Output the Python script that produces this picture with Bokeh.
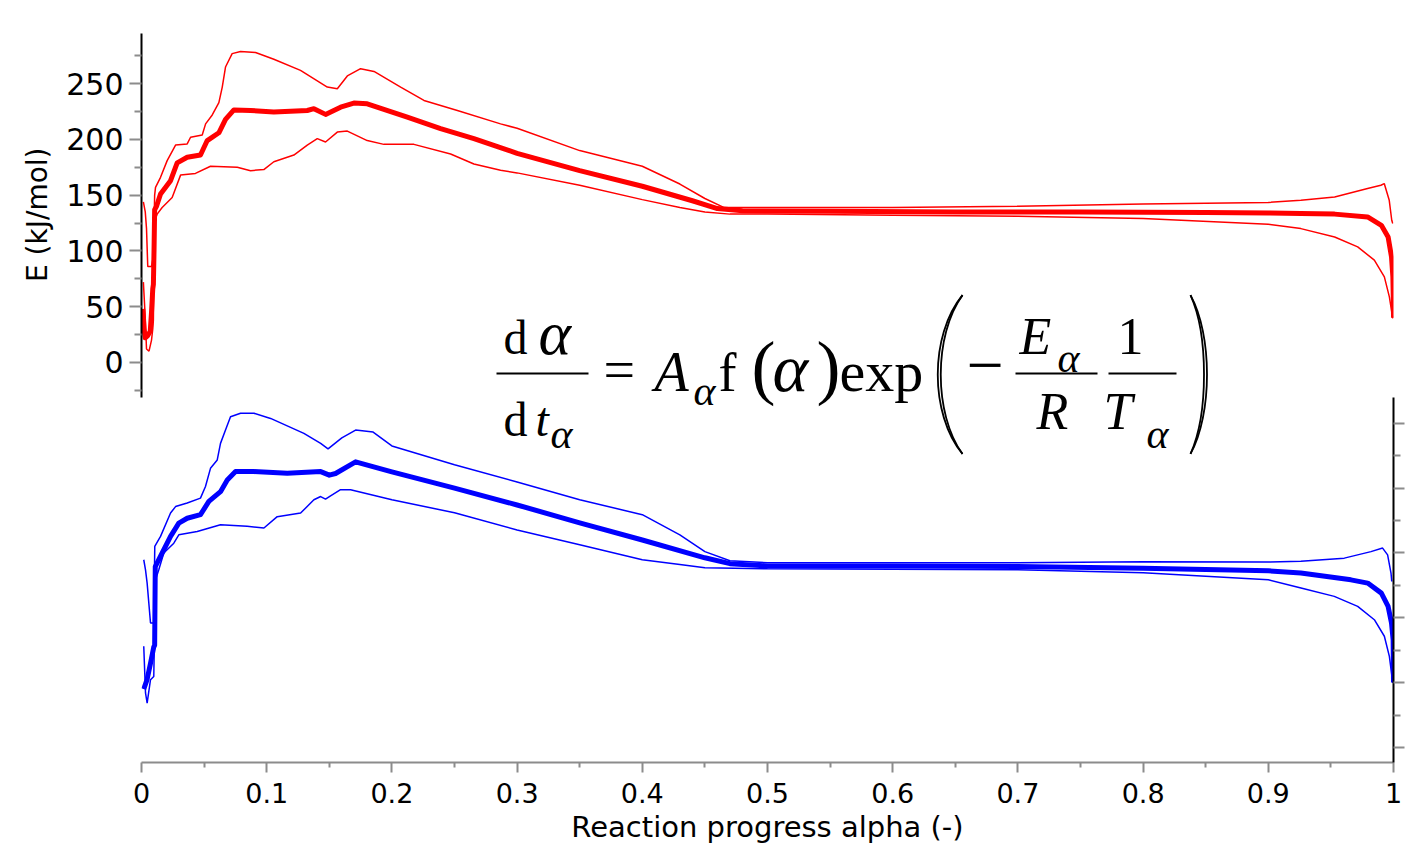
from bokeh.plotting import figure
from bokeh.models import Range1d, LinearAxis, FixedTicker, Title
from bokeh.core.properties import value
from bokeh.embed import file_html
from bokeh.resources import INLINE

# ---------------- data ----------------
# Top panel: activation energy E (kJ/mol) vs reaction progress alpha
red_mean_a = [0.001, 0.002, 0.003, 0.005, 0.007, 0.008, 0.009, 0.0095, 0.010, 0.0105, 0.012,
              0.0152, 0.0232, 0.0285, 0.0365, 0.0471, 0.0525, 0.0618, 0.0671, 0.0738, 0.0871,
              0.1057, 0.1324, 0.1377, 0.147, 0.159, 0.1696, 0.1803, 0.2123, 0.2389, 0.2655,
              0.2855, 0.30, 0.35, 0.40, 0.44, 0.46, 0.48, 0.55, 0.65, 0.75, 0.85, 0.90, 0.926,
              0.953, 0.9793, 0.9903, 0.9957, 0.9984, 0.9995, 0.9999, 1.0]
red_mean_E = [48, 30, 22, 24, 28, 45, 66, 70, 100, 137, 140,
              151, 163, 179, 184, 186, 199, 206, 218, 226.5, 226,
              224.6, 226, 227.6, 222.5, 229, 232.6, 232, 220, 209.7, 200.7,
              193.2, 187.5, 172, 158, 145, 138, 136, 135.5, 135, 135, 134.5, 134, 133.5,
              133, 130.5, 123, 112.5, 94.6, 76.7, 53, 40]

red_hi_a = [0.0015, 0.003, 0.004, 0.005, 0.008, 0.0095, 0.0105, 0.0112, 0.0152, 0.0205, 0.0272,
            0.0365, 0.0392, 0.0485, 0.0512, 0.0565, 0.0618, 0.0645, 0.0671, 0.0724, 0.0791,
            0.0911, 0.1057, 0.127, 0.1484, 0.1564, 0.1644, 0.175, 0.1857, 0.207, 0.2256,
            0.2523, 0.2868, 0.30, 0.35, 0.40, 0.43, 0.45, 0.465, 0.50, 0.60, 0.70, 0.80,
            0.90, 0.926, 0.953, 0.9793, 0.9899, 0.9926, 0.9966, 0.9986, 0.9994]
red_hi_E = [144, 135, 120, 86, 86, 95, 150, 157, 166, 181, 195,
            196, 202, 204, 214, 222, 233, 247, 265, 277, 279,
            278, 272, 262, 247, 245.5, 257, 263.5, 261, 247, 235,
            226, 214, 210, 190, 176, 160, 147, 139, 139, 139, 140, 142,
            143.5, 145.4, 148.4, 155.9, 158.9, 160.4, 145.4, 127.5, 124.6]

red_lo_a = [0.0015, 0.003, 0.004, 0.006, 0.008, 0.009, 0.0095, 0.0100, 0.0105, 0.0125, 0.0165,
            0.0245, 0.0312, 0.0431, 0.0551, 0.0765, 0.0871, 0.0977, 0.1057, 0.1217, 0.1324,
            0.1404, 0.147, 0.1564, 0.1644, 0.1803, 0.1936, 0.2176, 0.2469, 0.2655, 0.2868,
            0.30, 0.35, 0.40, 0.43, 0.45, 0.47, 0.50, 0.60, 0.70, 0.80, 0.90, 0.926,
            0.953, 0.9714, 0.9847, 0.9927, 0.9967, 0.9994]
red_lo_E = [72, 40, 12, 10, 20, 30, 38, 90, 127, 133, 139,
            148, 168, 169.5, 176, 175, 172, 173, 180, 186, 195,
            200.7, 197.7, 206.6, 207.5, 199, 195.6, 195.6, 187, 178, 172.3,
            170, 159, 146, 139, 135, 133, 133, 132, 131, 129, 124, 120,
            112.5, 103.6, 91.7, 76.7, 58.8, 39.4]

# Bottom panel: second parameter (right axis) vs reaction progress alpha
blue_mean_a = [0.0018, 0.0045, 0.0072, 0.0098, 0.0105, 0.011, 0.0151, 0.0232, 0.0298, 0.0365,
               0.0471, 0.0538, 0.0631, 0.0685, 0.0751, 0.0898, 0.1164, 0.1431, 0.150, 0.155,
               0.171, 0.20, 0.25, 0.30, 0.35, 0.40, 0.45, 0.47, 0.50, 0.60, 0.70, 0.80,
               0.90, 0.926, 0.966, 0.9794, 0.9903, 0.9957, 0.9984, 0.9997, 1.0]
blue_mean_v = [-2, 1, 6, 11, 11.5, 35.8, 38.9, 45.1, 49.2, 50.7,
               51.8, 55.9, 58.9, 62.5, 65.1, 65.1, 64.6, 65.1, 64, 64.5,
               68.1, 65, 60, 54.8, 49.3, 44, 38.5, 36.7, 36, 36, 35.8, 35.3,
               34.5, 33.8, 31.7, 30.7, 27.6, 23.5, 18.4, 13.2, 0]

blue_hi_a = [0.0018, 0.0032, 0.0045, 0.0072, 0.0098, 0.0106, 0.0152, 0.0232, 0.0272, 0.0365,
             0.0471, 0.0511, 0.0551, 0.0605, 0.0631, 0.0671, 0.0711, 0.0791, 0.0898, 0.1031,
             0.1297, 0.1431, 0.149, 0.160, 0.171, 0.185, 0.20, 0.25, 0.30, 0.35, 0.40,
             0.43, 0.45, 0.47, 0.50, 0.60, 0.70, 0.80, 0.90, 0.926, 0.9607, 0.982,
             0.9913, 0.9953, 0.998, 0.9986]
blue_hi_v = [37.9, 34.8, 30.7, 18.4, 18.4, 42, 45.1, 52.3, 54.3, 55.4,
             56.9, 60.5, 66.1, 68.7, 73.8, 77.9, 82, 83.1, 83.1, 81.5,
             76.9, 73.8, 72.1, 75.5, 77.9, 77.3, 73, 67.2, 61.9, 56.4, 51.8,
             45.6, 40.4, 37.6, 37, 37, 37, 37.3, 37.2, 37.4, 38.4, 40.4,
             41.5, 39.4, 33.8, 31.2]

blue_lo_a = [0.0018, 0.0032, 0.0045, 0.0072, 0.0098, 0.0112, 0.0138, 0.0178, 0.0258, 0.0298,
             0.0445, 0.0631, 0.0844, 0.0978, 0.1084, 0.1271, 0.1377, 0.1431, 0.147, 0.151,
             0.159, 0.167, 0.20, 0.25, 0.30, 0.35, 0.40, 0.43, 0.45, 0.50, 0.70, 0.80,
             0.90, 0.9261, 0.9527, 0.9714, 0.9847, 0.9927, 0.9967, 0.9994]
blue_lo_v = [11.2, -3.2, -6.3, 0.9, 1.9, 31.7, 34.8, 40, 43, 45.6,
             46.6, 48.7, 48.2, 47.7, 51.2, 52.3, 56.4, 57.4, 56.6, 57.6,
             59.5, 59.5, 56.4, 52.4, 47.1, 42.5, 37.9, 36.4, 35.4, 35.1, 34.8, 33.9,
             31.7, 29.2, 26.6, 23.5, 19.4, 14.3, 8.1, 0]

# Axis ticks and labels
x_ticks = [0, 0.1, 0.2, 0.3, 0.4, 0.5, 0.6, 0.7, 0.8, 0.9, 1]
x_labels = ["0", "0.1", "0.2", "0.3", "0.4", "0.5", "0.6", "0.7", "0.8", "0.9", "1"]
x_minor = [0.05, 0.15, 0.25, 0.35, 0.45, 0.55, 0.65, 0.75, 0.85, 0.95]
e_ticks = [0, 50, 100, 150, 200, 250]
e_minor = [-25, 25, 75, 125, 175, 225, 275]
r_ticks = [-20, 0, 20, 40, 60, 80]
r_minor = [-10, 10, 30, 50, 70]

X_TITLE = "Reaction progress alpha (-)"
Y_TITLE = "E (kJ/mol)"

RED = "#ff0000"
BLUE = "#0000ff"
GRAY = "#8c8c8c"

# ---------------- figure ----------------
Y_RED = (-359.05, 295.07)
Y_BLUE = (-24.65, 200.25)

p = figure(width=1412, height=846, output_backend="svg", toolbar_location=None,
           x_range=Range1d(0, 1), y_range=Range1d(*Y_RED),
           x_axis_location=None, y_axis_location=None,
           min_border_left=141, min_border_right=19, min_border_top=33, min_border_bottom=83)
p.outline_line_color = None
p.background_fill_color = "white"
p.border_fill_color = "white"
p.xgrid.grid_line_color = None
p.ygrid.grid_line_color = None
p.extra_y_ranges = {"blue": Range1d(*Y_BLUE)}

# bottom x axis
xaxis = LinearAxis(ticker=FixedTicker(ticks=x_ticks, minor_ticks=x_minor),
                   major_label_overrides=dict(zip(x_ticks, x_labels)),
                   axis_label=X_TITLE)
xaxis.axis_line_color = GRAY
xaxis.axis_line_width = 2
xaxis.major_tick_line_color = GRAY
xaxis.major_tick_line_width = 2
xaxis.minor_tick_line_color = GRAY
xaxis.minor_tick_line_width = 2
xaxis.major_tick_out = 10
xaxis.major_tick_in = 0
xaxis.minor_tick_out = 5
xaxis.minor_tick_in = 0
xaxis.major_label_standoff = 10
xaxis.major_label_text_font = "DejaVu Sans"
xaxis.major_label_text_font_size = "27px"
xaxis.major_label_text_color = "black"
xaxis.axis_label_standoff = 4
xaxis.axis_label_text_font = "DejaVu Sans"
xaxis.axis_label_text_font_size = "29px"
xaxis.axis_label_text_font_style = "normal"
xaxis.axis_label_text_color = "black"
p.add_layout(xaxis, "below")

# left axis (top panel, E)
yaxis = LinearAxis(bounds=(-31.1, Y_RED[1]),
                   ticker=FixedTicker(ticks=e_ticks, minor_ticks=e_minor))
yaxis.axis_line_color = "black"
yaxis.axis_line_width = 2
yaxis.major_tick_line_color = GRAY
yaxis.major_tick_line_width = 2
yaxis.minor_tick_line_color = GRAY
yaxis.minor_tick_line_width = 2
yaxis.major_tick_out = 12
yaxis.major_tick_in = 0
yaxis.minor_tick_out = 7
yaxis.minor_tick_in = 0
yaxis.major_label_standoff = 6
yaxis.major_label_text_font = "DejaVu Sans"
yaxis.major_label_text_font_size = "30px"
yaxis.major_label_text_color = "black"
p.add_layout(yaxis, "left")

# y title centred on the upper panel only (as in the reference)
ytitle = Title(text=Y_TITLE, align="right", offset=114, standoff=20,
               text_font="DejaVu Sans", text_font_size="28px",
               text_font_style="normal", text_color="black")
p.add_layout(ytitle, "left")

# right axis (bottom panel); its labels fall outside the page in the reference
raxis = LinearAxis(y_range_name="blue", bounds=(Y_BLUE[0], 88.1),
                   ticker=FixedTicker(ticks=r_ticks, minor_ticks=r_minor),
                   major_label_overrides={t: "" for t in r_ticks})
raxis.axis_line_color = "black"
raxis.axis_line_width = 2
raxis.major_tick_line_color = GRAY
raxis.major_tick_line_width = 2
raxis.minor_tick_line_color = GRAY
raxis.minor_tick_line_width = 2
raxis.major_tick_out = 11
raxis.major_tick_in = 0
raxis.minor_tick_out = 7
raxis.minor_tick_in = 0
raxis.major_label_standoff = 2
p.add_layout(raxis, "right")

# ---------------- curves ----------------
p.line(red_hi_a, red_hi_E, line_color=RED, line_width=1.5)
p.line(red_lo_a, red_lo_E, line_color=RED, line_width=1.5)
p.line(red_mean_a, red_mean_E, line_color=RED, line_width=5, line_join="round")

p.line(blue_hi_a, blue_hi_v, line_color=BLUE, line_width=1.5, y_range_name="blue")
p.line(blue_lo_a, blue_lo_v, line_color=BLUE, line_width=1.5, y_range_name="blue")
p.line(blue_mean_a, blue_mean_v, line_color=BLUE, line_width=5, line_join="round",
       y_range_name="blue")

# ---------------- equation (placed in page pixels, converted to data space) ----------------
FL, FR, FT, FB = 141.0, 1393.0, 33.0, 763.0
def dx(px):
    return (px - FL) / (FR - FL)
def dy(py):
    return Y_RED[1] - (py - FT) / (FB - FT) * (Y_RED[1] - Y_RED[0])

eq = [
    # text, left px, baseline px, size, style
    ("d", 503, 353, 48, "normal"),
    ("\u03b1", 538, 353, 62, "italic"),
    ("d", 503, 435, 48, "normal"),
    ("t", 535, 435, 48, "italic"),
    ("\u03b1", 550, 447, 42, "italic"),
    ("=", 603, 388, 56, "normal"),
    ("A", 654, 390, 56, "italic"),
    ("\u03b1", 693, 404, 42, "italic"),
    ("f", 718, 390, 54, "normal"),
    ("(", 751, 390, 72, "normal"),
    ("\u03b1", 772, 390, 68, "italic"),
    (")", 816, 390, 72, "normal"),
    ("exp", 839, 390, 58, "normal"),
    ("\u2212", 966, 387, 66, "normal"),
    ("E", 1019, 353, 52, "italic"),
    ("\u03b1", 1057, 371, 42, "italic"),
    ("R", 1036, 428, 52, "italic"),
    ("1", 1117, 353, 52, "normal"),
    ("T", 1103, 428, 52, "italic"),
    ("\u03b1", 1146, 447, 42, "italic"),
]
for txt, lx, by, sz, st in eq:
    p.text(x=[dx(lx)], y=[dy(by - 0.32 * sz)], text=[txt], text_font=value("Liberation Serif"),
           text_font_size=f"{sz}px", text_font_style=st, text_color="black",
           text_align="left", text_baseline="alphabetic")

# fraction bars
bars = [(496, 588, 373.5), (1015, 1097, 373.5), (1108, 1176, 373.5)]
p.segment(x0=[dx(b[0]) for b in bars], y0=[dy(b[2]) for b in bars],
          x1=[dx(b[1]) for b in bars], y1=[dy(b[2]) for b in bars],
          line_color="black", line_width=2)

# big parentheses
for dxc in (0, 4):
    p.bezier(x0=[dx(962)], y0=[dy(295)], x1=[dx(962)], y1=[dy(454)],
             cx0=[dx(929 + dxc)], cy0=[dy(335)], cx1=[dx(929 + dxc)], cy1=[dy(414)],
             line_color="black", line_width=1.8)
    p.bezier(x0=[dx(1190)], y0=[dy(295)], x1=[dx(1190)], y1=[dy(454)],
             cx0=[dx(1212 - dxc)], cy0=[dy(335)], cx1=[dx(1212 - dxc)], cy1=[dy(414)],
             line_color="black", line_width=1.8)

open("out.html", "w").write(file_html(p, INLINE))
